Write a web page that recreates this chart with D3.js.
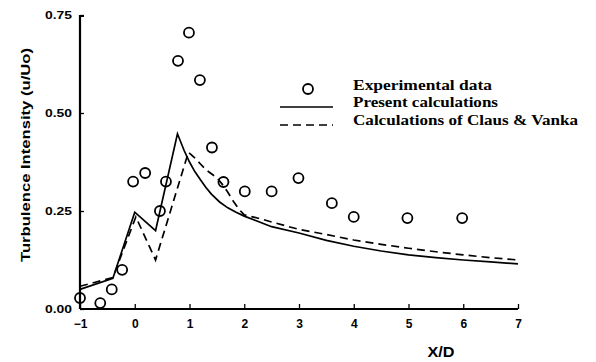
<!DOCTYPE html>
<html><head><meta charset="utf-8">
<script src="https://cdn.jsdelivr.net/npm/d3@7"></script>
<style>body{margin:0;background:#fff}svg{display:block}</style>
</head><body>
<svg id="c" width="596" height="362"></svg>
<script>
const expX = [-1.0,-0.63,-0.42,-0.23,-0.03,0.19,0.46,0.57,0.79,0.99,1.19,1.41,1.62,2.01,2.5,2.99,3.6,4.0,4.98,5.98];
const expY = [0.028,0.015,0.05,0.10,0.325,0.347,0.25,0.325,0.633,0.705,0.584,0.412,0.324,0.30,0.30,0.334,0.27,0.235,0.232,0.232];
const presentX = [-1,-0.4,0,0.38,0.78,0.9,1.0,1.1,1.2,1.3,1.4,1.55,1.7,1.85,2.0,2.5,3,3.5,4,4.5,5,5.5,6,6.5,7];
const presentY = [0.05,0.078,0.247,0.20,0.447,0.405,0.375,0.35,0.33,0.31,0.293,0.273,0.258,0.247,0.237,0.21,0.194,0.175,0.16,0.148,0.138,0.131,0.125,0.12,0.115];
const clausX = [-1,-0.4,0.02,0.38,0.98,1.1,1.2,1.3,1.4,1.5,1.6,1.7,1.8,1.9,2.0,2.3,2.5,3,3.5,4,4.5,5,5.5,6,6.5,7];
const clausY = [0.058,0.08,0.235,0.125,0.40,0.385,0.37,0.355,0.345,0.335,0.318,0.298,0.275,0.255,0.24,0.23,0.222,0.203,0.19,0.176,0.165,0.155,0.146,0.138,0.131,0.125];
const xTicks = [-1,0,1,2,3,4,5,6,7];
const yTicks = [0.00,0.25,0.50,0.75];
const yTickLabels = ["0.00","0.25","0.50","0.75"];
const legendLabels = ["Experimental data","Present calculations","Calculations of Claus & Vanka"];

const svg = d3.select("#c");
const x = d3.scaleLinear().domain([-1,7]).range([80,518]);
const y = d3.scaleLinear().domain([0,0.75]).range([309,15]);

// axes
const xAxis = d3.axisBottom(x).tickValues(xTicks).tickSize(-5).tickPadding(10).tickFormat(d3.format("d"));
const gx = svg.append("g").attr("transform","translate(0,309)").call(xAxis);
const yAxis = d3.axisLeft(y).tickValues(yTicks).tickSize(-4).tickPadding(8).tickFormat((d,i)=>yTickLabels[i]);
const gy = svg.append("g").attr("transform","translate(80,0)").call(yAxis);
[gx,gy].forEach(g=>{
  g.select(".domain").attr("stroke","#000").attr("stroke-width",2.2);
  g.selectAll(".tick line").attr("stroke","#000").attr("stroke-width",1.3);
  g.selectAll("text").attr("fill","#000").attr("font-family","Liberation Sans, Arial, sans-serif").attr("font-weight","bold");
});
gx.selectAll("text").attr("font-size",12);
gy.selectAll("text").attr("font-size",11).attr("textLength",27).attr("lengthAdjust","spacingAndGlyphs").attr("dy","0.35em");
gx.select(".domain").attr("d","M80,0H518");
gy.select(".domain").attr("d","M0,309V16H4");

// lines
const line = d3.line().x(d=>x(d[0])).y(d=>y(d[1]));
svg.append("path").datum(presentX.map((v,i)=>[v,presentY[i]]))
  .attr("d",line).attr("fill","none").attr("stroke","#000").attr("stroke-width",1.7);
svg.append("path").datum(clausX.map((v,i)=>[v,clausY[i]]))
  .attr("d",line).attr("fill","none").attr("stroke","#000").attr("stroke-width",1.7).attr("stroke-dasharray","8,5");

// points
svg.append("g").selectAll("circle").data(expX.map((v,i)=>[v,expY[i]])).join("circle")
  .attr("cx",d=>x(d[0])).attr("cy",d=>y(d[1])).attr("r",5)
  .attr("fill","none").attr("stroke","#000").attr("stroke-width",1.8);

// legend
const lg = svg.append("g");
lg.append("circle").attr("cx",308).attr("cy",89).attr("r",5).attr("fill","none").attr("stroke","#000").attr("stroke-width",1.8);
lg.append("line").attr("x1",280).attr("x2",333).attr("y1",107).attr("y2",107).attr("stroke","#000").attr("stroke-width",1.7);
lg.append("line").attr("x1",280).attr("x2",333).attr("y1",125).attr("y2",125).attr("stroke","#000").attr("stroke-width",1.7).attr("stroke-dasharray","8,5");
const lw = [139,145,225];
const ly = [90,107,125];
legendLabels.forEach((t,i)=>{
  lg.append("text").attr("x",353).attr("y",ly[i]).text(t)
    .attr("font-family","Liberation Serif, Times New Roman, serif").attr("font-size",14).attr("font-weight","bold")
    .attr("textLength",lw[i]).attr("lengthAdjust","spacingAndGlyphs").attr("fill","#000");
});

// titles
svg.append("text").attr("transform","translate(30,155) rotate(-90)").attr("text-anchor","middle")
  .attr("font-family","Liberation Sans, Arial, sans-serif").attr("font-weight","bold").attr("font-size",12.5)
  .attr("textLength",214).attr("lengthAdjust","spacingAndGlyphs")
  .text("Turbulence Intensity (u/Uo)");
svg.append("text").attr("x",441).attr("y",357).attr("text-anchor","middle")
  .attr("font-family","Liberation Sans, Arial, sans-serif").attr("font-weight","bold").attr("font-size",15)
  .attr("textLength",27).attr("lengthAdjust","spacingAndGlyphs").text("X/D");
</script>
</body></html>
